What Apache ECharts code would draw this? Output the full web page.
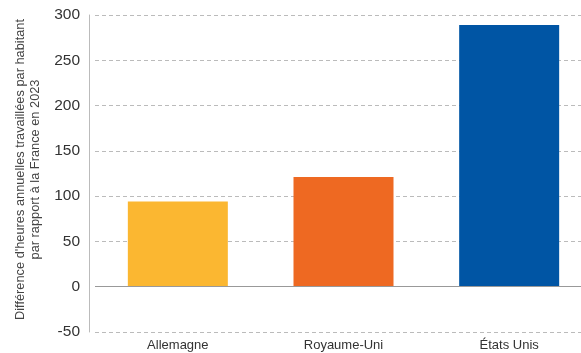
<!DOCTYPE html>
<html>
<head>
<meta charset="utf-8">
<script src="https://cdn.jsdelivr.net/npm/echarts@6/dist/echarts.min.js"></script>
<style>
  html, body { margin: 0; padding: 0; background: #fff; }
  #chart { width: 581px; height: 353px; }
</style>
</head>
<body>
<div id="chart"></div>
<script>
// Countries compared with France
const categories = ['Allemagne', 'Royaume-Uni', 'États Unis'];
// Extra annual hours worked per inhabitant vs. France, 2023
const values = [94, 121, 289];
const barColors = ['#FBB731', '#EE6922', '#0055A4'];
const yTicks = [-50, 0, 50, 100, 150, 200, 250, 300];

const chart = echarts.init(document.getElementById('chart'));
chart.setOption({
  animation: false,
  grid: { left: 95, right: -11, top: 15, bottom: 21, outerBoundsMode: 'none', containLabel: false },
  xAxis: {
    type: 'category',
    data: categories,
    axisLine: { show: false, onZero: false },
    axisTick: { show: false },
    axisLabel: { color: '#333', fontSize: 13, fontFamily: 'Liberation Sans', margin: 7 }
  },
  yAxis: {
    type: 'value',
    min: yTicks[0],
    max: yTicks[yTicks.length - 1],
    interval: 50,
    offset: 6,
    name: "Différence d'heures annuelles travaillées par habitant\npar rapport à la France en 2023",
    nameLocation: 'middle',
    nameGap: 45,
    nameRotate: 90,
    nameTextStyle: {
      color: '#444', fontSize: 12.8, fontFamily: 'Liberation Sans', lineHeight: 15,
      padding: [0, 0, 0, 8]
    },
    axisLine: { show: true, lineStyle: { color: '#bbb', width: 1 } },
    axisTick: { show: false },
    axisLabel: { color: '#333', fontSize: 15.5, fontFamily: 'Liberation Sans', margin: 9 },
    splitLine: { lineStyle: { color: '#bbb', type: [4, 3], width: 1 } }
  },
  series: [{
    type: 'bar',
    barWidth: 100,
    data: values.map((v, i) => ({ value: v, itemStyle: { color: barColors[i] } })),
    markLine: {
      silent: true,
      symbol: 'none',
      label: { show: false },
      lineStyle: { color: '#999', type: 'solid', width: 1 },
      data: [{ yAxis: 0 }]
    }
  }]
});
</script>
</body>
</html>
